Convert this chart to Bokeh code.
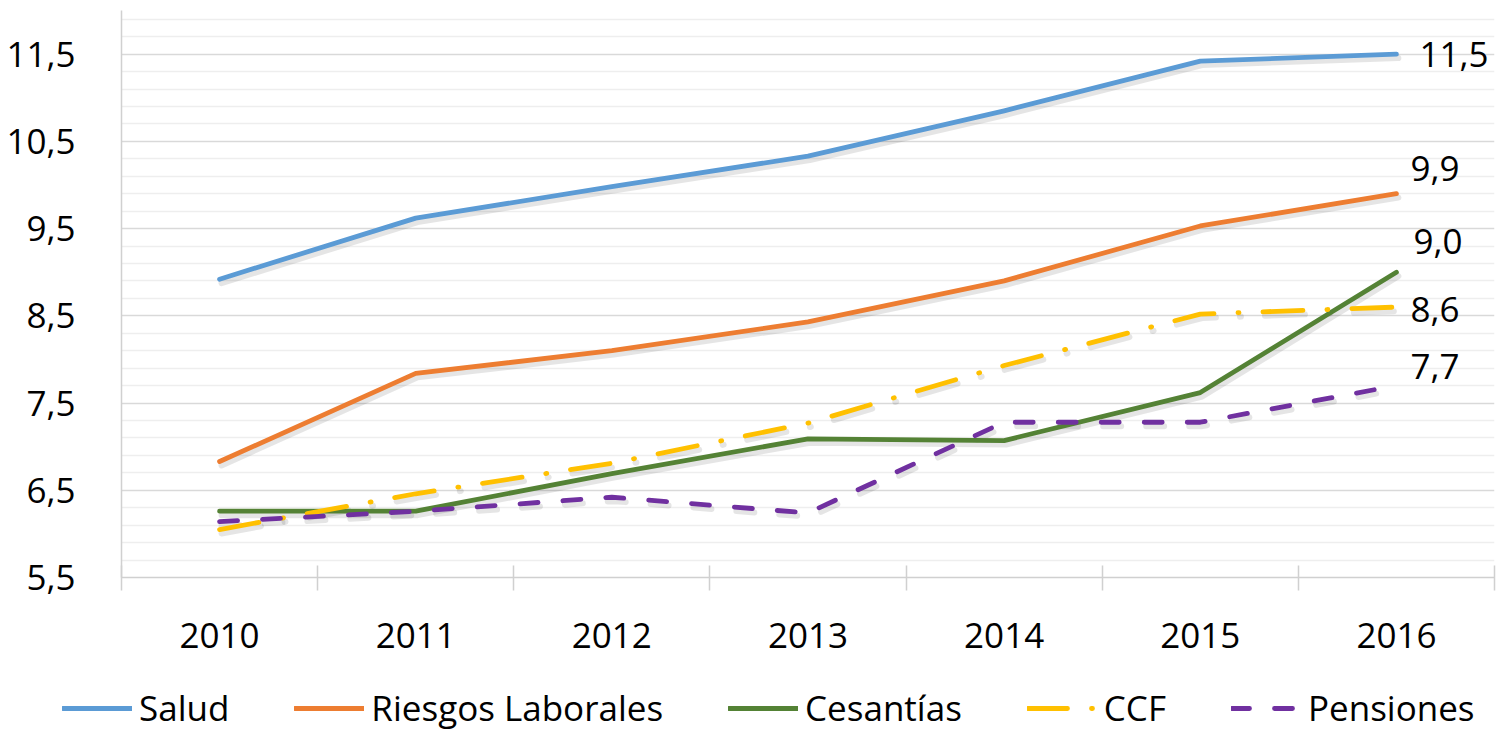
import numpy as np
from bokeh.plotting import figure
from bokeh.layouts import column
from bokeh.models import FixedTicker, Legend, LegendItem, ColumnDataSource, Range1d
from bokeh.core.properties import value
from bokeh.embed import file_html
from bokeh.resources import INLINE

# ---- data ----
years = ["2010", "2011", "2012", "2013", "2014", "2015", "2016"]
salud = [8.92, 9.62, 9.98, 10.33, 10.85, 11.42, 11.50]
riesgos = [6.83, 7.84, 8.10, 8.43, 8.90, 9.53, 9.90]
cesantias = [6.26, 6.26, 6.69, 7.09, 7.07, 7.62, 9.00]
ccf = [6.05, 6.46, 6.81, 7.27, 7.93, 8.52, 8.60]
pensiones = [6.14, 6.26, 6.42, 6.24, 7.28, 7.28, 7.70]
series_names = ["Salud", "Riesgos Laborales", "Cesantías", "CCF", "Pensiones"]
y_ticks = [5.5, 6.5, 7.5, 8.5, 9.5, 10.5, 11.5]

# ---- styles ----
colors = ["#5B9BD5", "#ED7D31", "#548235", "#FFC000", "#7030A0"]
dashes = ["solid", "solid", "solid", "40 24 1 24", "18 25"]
label_dx = [23, 14, 17, 14, 14]
label_dy = [0, -25, -31, 2, -19]

FONT = "Open Sans"
W = 1497
LEFT = 121

xs = list(range(len(years)))
all_series = [salud, riesgos, cesantias, ccf, pensiones]

p = figure(width=W, height=665, x_range=(-0.5, len(years) - 0.5), y_range=(5.5, 12.0),
           output_backend="svg", toolbar_location=None,
           min_border_left=LEFT, min_border_right=3, min_border_top=10, min_border_bottom=88)
p.outline_line_color = None

# grid
minor_y = [round(v, 2) for v in np.arange(5.5, 12.01, 0.2) if round(v, 2) not in y_ticks]
p.yaxis.ticker = FixedTicker(ticks=y_ticks, minor_ticks=minor_y)
p.ygrid.grid_line_color = "#d9d9d9"
p.ygrid.grid_line_width = 1.5
p.ygrid.minor_grid_line_color = "#eeeeee"
p.ygrid.minor_grid_line_width = 1.5
p.xgrid.grid_line_color = None

# y axis
p.yaxis.major_label_overrides = {t: f"{t:.1f}".replace(".", ",") for t in y_ticks}
p.yaxis.axis_line_color = "#d0d0d0"
p.yaxis.axis_line_width = 1.5
p.yaxis.major_tick_line_color = None
p.yaxis.minor_tick_line_color = None
p.yaxis.major_label_text_font = FONT
p.yaxis.major_label_text_font_size = "35px"
p.yaxis.major_label_text_color = "#000000"
p.yaxis.major_label_standoff = 40

# x axis
bounds = [i - 0.5 for i in range(len(years) + 1)]
p.xaxis.ticker = FixedTicker(ticks=xs, minor_ticks=bounds)
p.xaxis.major_label_overrides = {i: y for i, y in enumerate(years)}
p.xaxis.axis_line_color = "#d0d0d0"
p.xaxis.axis_line_width = 1.5
p.xaxis.major_tick_line_color = None
p.xaxis.major_tick_out = 0
p.xaxis.major_tick_in = 0
p.xaxis.minor_tick_line_color = "#d0d0d0"
p.xaxis.minor_tick_line_width = 1.5
p.xaxis.minor_tick_in = 12
p.xaxis.minor_tick_out = 13
p.xaxis.major_label_text_font = FONT
p.xaxis.major_label_text_font_size = "35px"
p.xaxis.major_label_text_color = "#000000"
p.xaxis.major_label_standoff = 32

# shadows
for s, d in zip(all_series, dashes):
    p.line([x + 0.01 for x in xs], [v - 0.045 for v in s], line_color="#000000", line_alpha=0.10,
           line_width=6, line_dash=d, line_cap="round", line_join="round")

for s, c, d in zip(all_series, colors, dashes):
    p.line(xs, s, line_color=c, line_width=4.8, line_dash=d, line_cap="round", line_join="round")

# end labels
src = ColumnDataSource(dict(
    x=[xs[-1]] * len(all_series),
    y=[s[-1] for s in all_series],
    t=[f"{s[-1]:.1f}".replace(".", ",") for s in all_series],
    dx=label_dx,
    dy=label_dy,
))
p.text(x="x", y="y", text="t", x_offset="dx", y_offset="dy", source=src,
       text_font=value(FONT), text_font_size="35px", text_color="#000000",
       text_align="left", text_baseline="middle")

# legend in a separate strip below (its lines lie outside its visible range)
p2 = figure(width=W, height=66, x_range=Range1d(-0.5, len(years) - 0.5), y_range=Range1d(0, 1),
            output_backend="svg", toolbar_location=None,
            x_axis_location=None, y_axis_location=None,
            min_border_left=0, min_border_right=0, min_border_top=0, min_border_bottom=0)
p2.frame_align = False
p2.outline_line_color = None
p2.grid.visible = False
items = []
for name, s, c, d in zip(series_names, all_series, colors, dashes):
    r = p2.line(xs, s, line_color=c, line_width=4.8, line_dash=d, line_cap="round")
    items.append(LegendItem(label=name, renderers=[r]))

legend = Legend(items=items, orientation="horizontal", location=(62, 0),
                glyph_width=70, glyph_height=30, label_standoff=7, spacing=65,
                label_text_font=FONT, label_text_font_size="35px", label_text_color="#000000",
                border_line_color=None, background_fill_alpha=0, padding=0, margin=0)
p2.add_layout(legend, "center")

layout = column(p, p2, spacing=0)
open("out.html", "w").write(file_html(layout, INLINE))
